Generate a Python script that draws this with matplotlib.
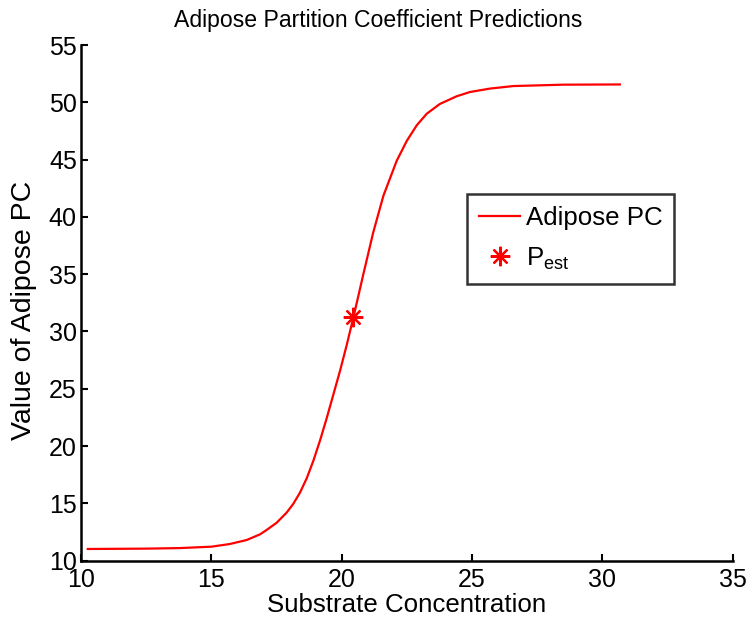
import numpy as np
import matplotlib.pyplot as plt

# values
conc = [10.26, 12.5, 13.8, 15.0, 15.7, 16.35, 16.87, 17.12, 17.5, 17.89,
        18.14, 18.4, 18.66, 18.91, 19.17, 19.42, 19.68, 19.94, 20.19, 20.45,
        20.83, 21.21, 21.6, 22.11, 22.5, 22.88, 23.26, 23.76, 24.41, 24.92,
        25.69, 26.58, 28.5, 30.67]
adipose_pc = [11.02, 11.05, 11.1, 11.22, 11.45, 11.8, 12.3, 12.68, 13.3, 14.2,
              14.95, 15.94, 17.2, 18.7, 20.5, 22.4, 24.5, 26.6, 28.8, 31.24,
              35.0, 38.65, 41.85, 44.9, 46.65, 48.0, 49.0, 49.85, 50.53, 50.9,
              51.2, 51.42, 51.54, 51.56]
p_est_x = [20.45]
p_est_y = [31.24]

plt.rcParams['font.family'] = ['Liberation Sans', 'DejaVu Sans']

fig = plt.figure(figsize=(7.5, 6.22), dpi=100)
ax = fig.add_axes([0.108, 0.0986, 0.869, 0.829])

ax.plot(conc, adipose_pc, color='red', lw=1.6, label='Adipose PC')
ax.plot(p_est_x, p_est_y, ls='none', marker=(8, 2, 0), ms=14, mew=1.6,
        color='red', label='P$_{\\mathregular{est}}$')

ax.set_xlim(10, 35)
ax.set_ylim(10, 55)
ax.set_xticks(np.arange(10, 36, 5))
ax.set_yticks(np.arange(10, 56, 5))
ax.spines['top'].set_visible(False)
ax.spines['right'].set_visible(False)
for s in ['left', 'bottom']:
    ax.spines[s].set_linewidth(1.8)
ax.tick_params(direction='in', length=5, width=1.5, labelsize=18)
ax.tick_params(axis='x', pad=5)
ax.tick_params(axis='y', pad=3)

ax.set_xlabel('Substrate Concentration', fontsize=18.6, labelpad=1)
ax.set_ylabel('Value of Adipose PC', fontsize=20.5)
ax.yaxis.set_label_coords(-0.068, 0.486)
ax.set_title('Adipose Partition Coefficient Predictions', fontsize=16.6,
             x=0.456, pad=13)

leg = ax.legend(loc='upper left', bbox_to_anchor=(0.593, 0.7105), fontsize=18.6,
                frameon=True, fancybox=False, edgecolor='black',
                handlelength=1.6, handletextpad=0.2, borderpad=0.45,
                labelspacing=0.6, borderaxespad=0)
leg.get_frame().set_linewidth(1.8)

fig.savefig('out.png', dpi=100)
